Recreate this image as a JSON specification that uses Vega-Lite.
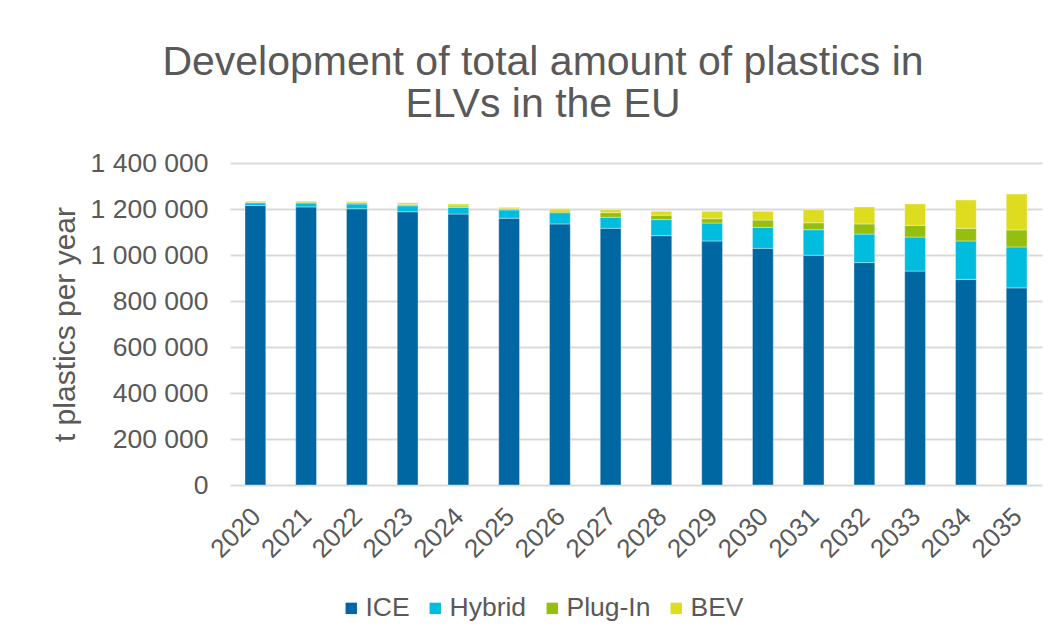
{
  "$schema": "https://vega.github.io/schema/vega-lite/v6.json",
  "autosize": {"type": "none"},
  "width": 812,
  "height": 322,
  "padding": {"left": 230, "top": 163, "right": 20, "bottom": 156},
  "background": "white",
  "title": {
    "text": ["Development of total amount of plastics in", "ELVs in the EU"],
    "font": "Liberation Sans",
    "fontSize": 41,
    "fontWeight": "normal",
    "color": "#595959",
    "lineHeight": 42,
    "anchor": "middle",
    "frame": "group",
    "dx": -93,
    "offset": 24
  },
  "data": {"values": [
    {"year": "2020", "type": "ICE", "t": 1215000}, {"year": "2020", "type": "Hybrid", "t": 12000}, {"year": "2020", "type": "Plug-In", "t": 3000}, {"year": "2020", "type": "BEV", "t": 4000},
    {"year": "2021", "type": "ICE", "t": 1209000}, {"year": "2021", "type": "Hybrid", "t": 17000}, {"year": "2021", "type": "Plug-In", "t": 4000}, {"year": "2021", "type": "BEV", "t": 4000},
    {"year": "2022", "type": "ICE", "t": 1201000}, {"year": "2022", "type": "Hybrid", "t": 21000}, {"year": "2022", "type": "Plug-In", "t": 5000}, {"year": "2022", "type": "BEV", "t": 6000},
    {"year": "2023", "type": "ICE", "t": 1188000}, {"year": "2023", "type": "Hybrid", "t": 26000}, {"year": "2023", "type": "Plug-In", "t": 6000}, {"year": "2023", "type": "BEV", "t": 7000},
    {"year": "2024", "type": "ICE", "t": 1178000}, {"year": "2024", "type": "Hybrid", "t": 29000}, {"year": "2024", "type": "Plug-In", "t": 6000}, {"year": "2024", "type": "BEV", "t": 9000},
    {"year": "2025", "type": "ICE", "t": 1160000}, {"year": "2025", "type": "Hybrid", "t": 36000}, {"year": "2025", "type": "Plug-In", "t": 5000}, {"year": "2025", "type": "BEV", "t": 6000},
    {"year": "2026", "type": "ICE", "t": 1135000}, {"year": "2026", "type": "Hybrid", "t": 49000}, {"year": "2026", "type": "Plug-In", "t": 7000}, {"year": "2026", "type": "BEV", "t": 10000},
    {"year": "2027", "type": "ICE", "t": 1116000}, {"year": "2027", "type": "Hybrid", "t": 48000}, {"year": "2027", "type": "Plug-In", "t": 20000}, {"year": "2027", "type": "BEV", "t": 13000},
    {"year": "2028", "type": "ICE", "t": 1084000}, {"year": "2028", "type": "Hybrid", "t": 70000}, {"year": "2028", "type": "Plug-In", "t": 19000}, {"year": "2028", "type": "BEV", "t": 17000},
    {"year": "2029", "type": "ICE", "t": 1061000}, {"year": "2029", "type": "Hybrid", "t": 78000}, {"year": "2029", "type": "Plug-In", "t": 19000}, {"year": "2029", "type": "BEV", "t": 32000},
    {"year": "2030", "type": "ICE", "t": 1029000}, {"year": "2030", "type": "Hybrid", "t": 91000}, {"year": "2030", "type": "Plug-In", "t": 32000}, {"year": "2030", "type": "BEV", "t": 38000},
    {"year": "2031", "type": "ICE", "t": 999000}, {"year": "2031", "type": "Hybrid", "t": 111000}, {"year": "2031", "type": "Plug-In", "t": 30000}, {"year": "2031", "type": "BEV", "t": 57000},
    {"year": "2032", "type": "ICE", "t": 967000}, {"year": "2032", "type": "Hybrid", "t": 124000}, {"year": "2032", "type": "Plug-In", "t": 44000}, {"year": "2032", "type": "BEV", "t": 74000},
    {"year": "2033", "type": "ICE", "t": 930000}, {"year": "2033", "type": "Hybrid", "t": 148000}, {"year": "2033", "type": "Plug-In", "t": 51000}, {"year": "2033", "type": "BEV", "t": 93000},
    {"year": "2034", "type": "ICE", "t": 894000}, {"year": "2034", "type": "Hybrid", "t": 167000}, {"year": "2034", "type": "Plug-In", "t": 55000}, {"year": "2034", "type": "BEV", "t": 123000},
    {"year": "2035", "type": "ICE", "t": 857000}, {"year": "2035", "type": "Hybrid", "t": 178000}, {"year": "2035", "type": "Plug-In", "t": 74000}, {"year": "2035", "type": "BEV", "t": 156000}
  ]},
  "transform": [
    {"calculate": "indexof(['ICE', 'Hybrid', 'Plug-In', 'BEV'], datum.type)", "as": "stackOrder"}
  ],
  "mark": {"type": "bar", "stroke": "white", "strokeWidth": 0.6, "strokeOpacity": 0.6},
  "encoding": {
    "x": {
      "field": "year", "type": "ordinal",
      "scale": {"paddingInner": 0.59, "paddingOuter": 0.295},
      "axis": {
        "title": null, "labelAngle": -45, "labelFontSize": 26, "labelFont": "Liberation Sans",
        "labelColor": "#595959", "domain": false, "ticks": false, "labelPadding": 18,
        "labelOffset": -8
      }
    },
    "y": {
      "field": "t", "type": "quantitative",
      "stack": "zero",
      "scale": {"domain": [0, 1400000]},
      "axis": {
        "title": "t plastics per year", "titleFontSize": 30, "titleFont": "Liberation Sans",
        "titleFontWeight": "normal", "titleColor": "#595959", "titlePadding": 10,
        "values": [0, 200000, 400000, 600000, 800000, 1000000, 1200000, 1400000],
        "labelExpr": "replace(format(datum.value, ','), regexp(',', 'g'), ' ')",
        "labelFontSize": 26.5, "labelFont": "Liberation Sans", "labelColor": "#595959",
        "labelPadding": 22, "domain": false, "ticks": false,
        "grid": true, "gridColor": "#D9D9D9", "gridWidth": 2
      }
    },
    "order": {"field": "stackOrder", "type": "quantitative", "sort": "ascending"},
    "color": {
      "field": "type", "type": "nominal",
      "sort": ["ICE", "Hybrid", "Plug-In", "BEV"],
      "scale": {"domain": ["ICE", "Hybrid", "Plug-In", "BEV"], "range": ["#0067A3", "#00BDE0", "#95BE0F", "#DDDC1F"]},
      "legend": {
        "title": null, "orient": "none", "direction": "horizontal",
        "legendX": 108, "legendY": 432,
        "symbolType": "square", "symbolSize": 130, "symbolStrokeWidth": 0,
        "labelFontSize": 26.5, "labelFont": "Liberation Sans", "labelColor": "#595959",
        "labelOffset": 1, "columnPadding": 12
      }
    }
  },
  "config": {"view": {"stroke": null}}
}
